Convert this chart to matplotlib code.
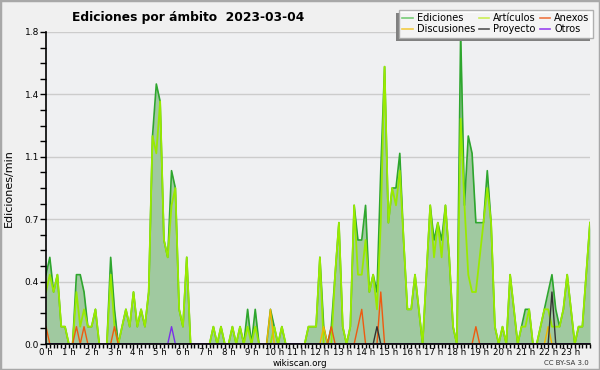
import matplotlib
matplotlib.use("Agg")
import matplotlib.pyplot as plt
from matplotlib.lines import Line2D
from matplotlib.patches import Rectangle
from matplotlib.ticker import FixedLocator, MultipleLocator, FormatStrFormatter

# edits per minute, one value per 10 minutes (144 slots)
ediciones = [
    0.4, 0.5, 0.3, 0.4, 0.1, 0.1,
    0, 0, 0.4, 0.4, 0.3, 0.1,
    0.1, 0.2, 0, 0, 0, 0.5,
    0.2, 0, 0.1, 0.2, 0.1, 0.3,
    0.1, 0.2, 0.1, 0.3, 1.2, 1.5,
    1.4, 0.6, 0.5, 1.0, 0.9, 0.2,
    0.1, 0.5, 0, 0, 0, 0,
    0, 0, 0.1, 0, 0.1, 0,
    0, 0.1, 0, 0.1, 0, 0.2,
    0, 0.2, 0, 0, 0, 0.2,
    0.1, 0, 0.1, 0, 0, 0,
    0, 0, 0, 0.1, 0.1, 0.1,
    0.5, 0.1, 0, 0.1, 0.4, 0.7,
    0.1, 0, 0.1, 0.8, 0.6, 0.6,
    0.8, 0.3, 0.4, 0.3, 1.0, 1.6,
    0.7, 0.9, 0.9, 1.1, 0.6, 0.2,
    0.2, 0.4, 0.2, 0, 0.4, 0.8,
    0.6, 0.7, 0.6, 0.8, 0.5, 0.1,
    0, 1.8, 0.8, 1.2, 1.1, 0.7,
    0.7, 0.7, 1.0, 0.7, 0.1, 0,
    0.1, 0, 0.4, 0.2, 0, 0.1,
    0.2, 0.2, 0, 0, 0.1, 0.2,
    0.3, 0.4, 0.2, 0.1, 0.2, 0.4,
    0.2, 0, 0.1, 0.1, 0.4, 0.7,
]

articulos = [
    0.3, 0.4, 0.3, 0.4, 0.1, 0.1,
    0, 0, 0.3, 0.1, 0.2, 0.1,
    0.1, 0.2, 0, 0, 0, 0.4,
    0.1, 0, 0.1, 0.2, 0.1, 0.3,
    0.1, 0.2, 0.1, 0.3, 1.2, 1.1,
    1.4, 0.6, 0.5, 0.8, 0.9, 0.2,
    0.1, 0.5, 0, 0, 0, 0,
    0, 0, 0.1, 0, 0.1, 0,
    0, 0.1, 0, 0.1, 0, 0.1,
    0, 0.1, 0, 0, 0, 0,
    0.1, 0, 0.1, 0, 0, 0,
    0, 0, 0, 0.1, 0.1, 0.1,
    0.5, 0, 0, 0, 0.4, 0.7,
    0.1, 0, 0.1, 0.8, 0.4, 0.4,
    0.6, 0.3, 0.4, 0.2, 0.7, 1.6,
    0.7, 0.9, 0.8, 1.0, 0.6, 0.2,
    0.2, 0.4, 0.2, 0, 0.4, 0.8,
    0.5, 0.7, 0.5, 0.8, 0.5, 0.1,
    0, 1.3, 0.8, 0.4, 0.3, 0.3,
    0.5, 0.7, 0.9, 0.7, 0.1, 0,
    0.1, 0, 0.4, 0.2, 0, 0.1,
    0.1, 0.2, 0, 0, 0.1, 0.2,
    0.2, 0.1, 0.1, 0.1, 0.2, 0.4,
    0.2, 0, 0.1, 0.1, 0.4, 0.7,
]

# sparse series: slot index -> value
anexos_pts = {0: 0.1, 8: 0.1, 10: 0.1, 18: 0.1, 75: 0.1, 82: 0.1, 83: 0.2, 88: 0.3, 113: 0.1}
discusiones_pts = {59: 0.2, 73: 0.1, 132: 0.1}
proyecto_pts = {87: 0.1, 133: 0.3}
otros_pts = {33: 0.1}

hour_labels = [f"{h} h" for h in range(24)]

n = len(ediciones)
slots = list(range(n))


def expand(pts):
    return [pts.get(i, 0) for i in slots]


anexos = expand(anexos_pts)
discusiones = expand(discusiones_pts)
proyecto = expand(proyecto_pts)
otros = expand(otros_pts)

fig = plt.figure(figsize=(6, 3.7), dpi=100, facecolor="#f0f0f0")
ax = fig.add_axes([46 / 600, 26 / 370, 544 / 600, 312 / 370])
ax.set_facecolor("#eff0f2")

ax.fill_between(slots, ediciones, 0, color="#a0c9a0", lw=0, zorder=1)
ax.plot(slots, ediciones, color="#2ea62e", lw=1.2, zorder=2)
ax.plot(slots, articulos, color="#99ea00", lw=1.3, zorder=3)
ax.plot(slots, discusiones, color="#f2b800", lw=1.0, zorder=4)
ax.plot(slots, anexos, color="#ee5a10", lw=1.0, zorder=4)
ax.plot(slots, proyecto, color="#333333", lw=1.0, zorder=5)
ax.plot(slots, otros, color="#7a30e8", lw=1.0, zorder=5)

ax.set_xlim(0, n - 1)
ax.set_ylim(0, 1.8)

ax.xaxis.set_major_locator(FixedLocator([h * 6 for h in range(24)]))
ax.set_xticklabels(hour_labels)
ax.xaxis.set_minor_locator(MultipleLocator(1))
ax.yaxis.set_major_locator(MultipleLocator(0.36))
ax.yaxis.set_minor_locator(MultipleLocator(0.09))
ax.yaxis.set_major_formatter(FormatStrFormatter("%.1f"))
ax.tick_params(axis="both", which="both", direction="out", color="black", width=1)
ax.tick_params(axis="x", which="both", length=3, pad=0, labelsize=6.2)
ax.tick_params(axis="y", which="both", length=4, pad=1, labelsize=6.5)
ax.grid(axis="y", which="major", color="#cccccc", lw=1, zorder=0)
ax.set_axisbelow(True)

for side in ("top", "right"):
    ax.spines[side].set_visible(False)
for side in ("left", "bottom"):
    ax.spines[side].set_linewidth(1.2)
    ax.spines[side].set_zorder(6)

ax.set_ylabel("Ediciones/min", fontsize=8, labelpad=8)

fig.text(188 / 600, 1 - 17 / 370, "Ediciones por ámbito  2023-03-04",
         ha="center", va="center", fontsize=8.8, fontweight="bold")
fig.text(300 / 600, 1 - 364 / 370, "wikiscan.org", ha="center", va="center", fontsize=6.3)
fig.text(589 / 600, 1 - 363 / 370, "CC BY-SA 3.0", ha="right", va="center", fontsize=5, color="#333333")

handles = [
    Line2D([], [], color="#77cc77", lw=1.2),
    Line2D([], [], color="#f2cc44", lw=1.2),
    Line2D([], [], color="#ccee55", lw=1.2),
    Line2D([], [], color="#555555", lw=1.2),
    Line2D([], [], color="#ee7744", lw=1.2),
    Line2D([], [], color="#9944ee", lw=1.2),
]
labels = ["Ediciones", "Discusiones", "Artículos", "Proyecto", "Anexos", "Otros"]

leg = fig.legend(handles, labels, loc="upper right", bbox_to_anchor=(593 / 600, 1 - 10 / 370),
                 ncol=3, fontsize=7, frameon=True, fancybox=False, edgecolor="#aaaaaa",
                 facecolor="white", framealpha=0.92, borderpad=0.35, labelspacing=0.1,
                 handlelength=1.1, handletextpad=0.4, columnspacing=0.4, borderaxespad=0)
leg.set_zorder(5)
leg.get_frame().set_linewidth(1)

# legend shadow: same box shifted 3 px left and down
fig.canvas.draw()
bb = leg.get_window_extent().transformed(fig.transFigure.inverted())
fig.patches.append(Rectangle((bb.x0 - 3 / 600, bb.y0 - 3 / 370), bb.width, bb.height,
                             transform=fig.transFigure, facecolor="#808080",
                             edgecolor="none", zorder=4.9))

fig.patches.append(Rectangle((0, 0), 1, 1, transform=fig.transFigure, fill=False,
                             edgecolor="#a8a8a8", lw=2.5, zorder=10))

fig.savefig("out.png", dpi=100, facecolor=fig.get_facecolor())
